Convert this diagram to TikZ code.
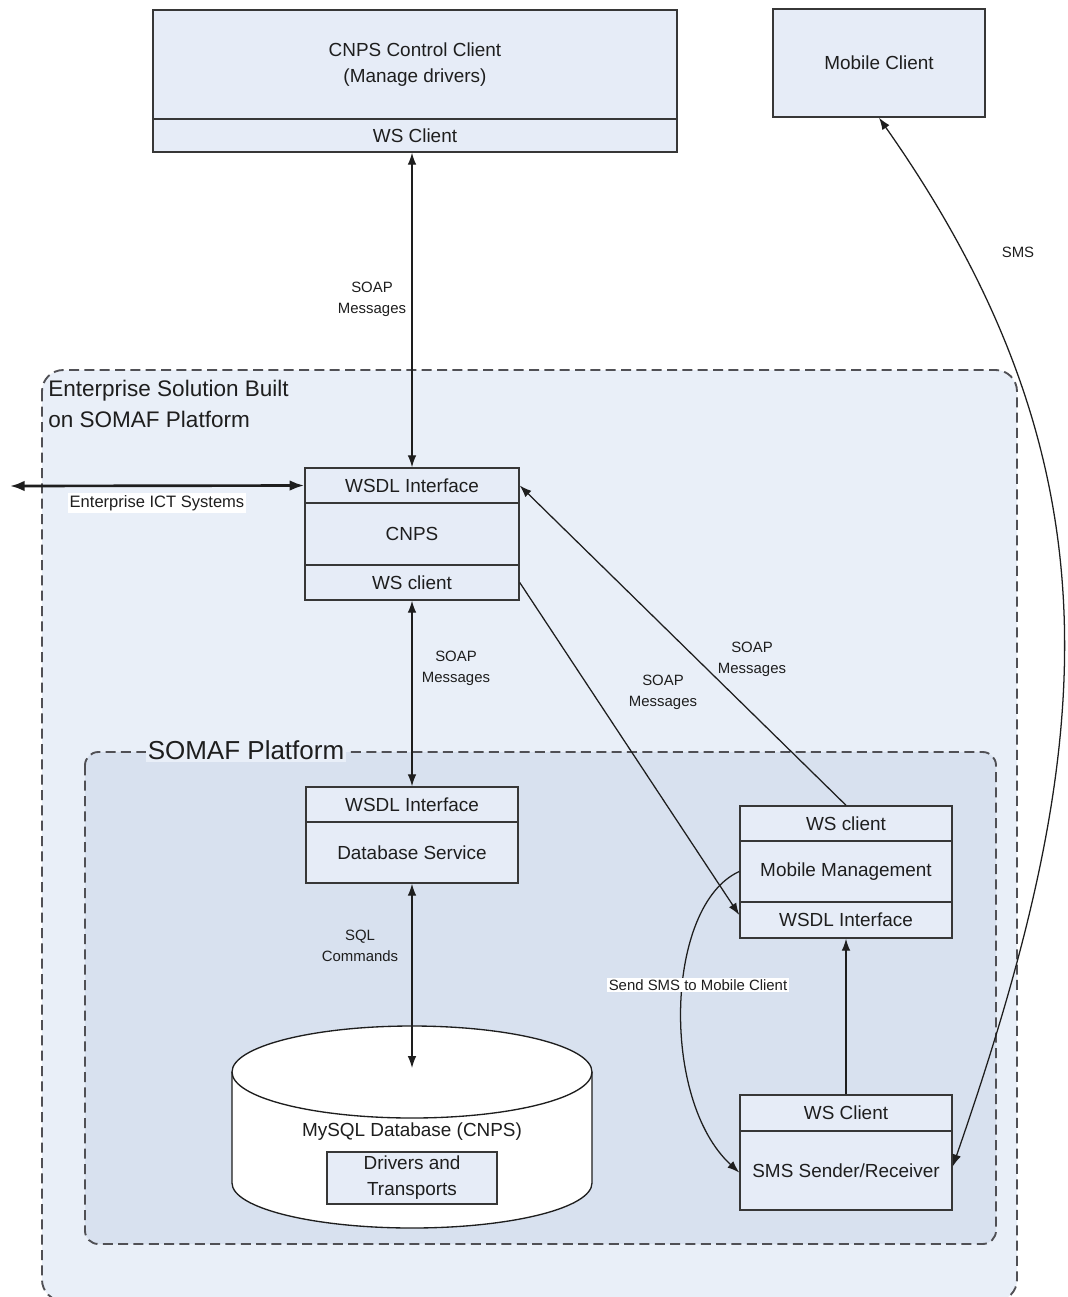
\documentclass[tikz,border=0pt]{standalone}
\usepackage{fontspec}
\setmainfont{Liberation Sans}
\usetikzlibrary{arrows.meta}
\definecolor{outerbg}{RGB}{233,239,248}
\definecolor{innerbg}{RGB}{216,225,239}
\definecolor{boxbg}{RGB}{230,236,247}
\definecolor{edge}{RGB}{55,55,55}
\definecolor{dashcol}{RGB}{80,80,85}
\definecolor{ink}{RGB}{30,30,30}
\begin{document}
\begin{tikzpicture}[x=0.75pt,y=-0.75pt,
  part/.style={draw=edge,fill=boxbg,line width=1.1pt,inner sep=0pt,
    text=ink,align=center,font=\fontsize{14.2}{19.5}\selectfont},
  sz/.style 2 args={minimum width=#1*0.75pt,minimum height=#2*0.75pt},
  region/.style={draw=dashcol,line width=1.4pt,dash pattern=on 7.5pt off 4pt},
  msg/.style={text=ink,align=center,font=\fontsize{11.2}{15.75}\selectfont,inner sep=1pt},
  conn/.style={draw=ink,line width=0.95pt},
  tip/.style={-{Latex[length=9pt,width=6.5pt]}},
  tips/.style={{Latex[length=9pt,width=6.5pt]}-{Latex[length=9pt,width=6.5pt]}}
]
\useasboundingbox (0,0) rectangle (1068,1297);
\clip (0,0) rectangle (1068,1297);
\fill[white] (0,0) rectangle (1068,1297);

% enterprise region and SOMAF platform region
\filldraw[region,fill=outerbg,rounded corners=16pt] (42,370) rectangle (1017,1301);
\filldraw[region,fill=innerbg,rounded corners=10pt] (85,752) rectangle (996,1244);
\node[anchor=north west,text=ink,align=left,inner sep=0pt,
  font=\fontsize{16.9}{23.3}\selectfont] (enttitle) at (48,380)
  {Enterprise Solution Built\\on SOMAF Platform};
\node[fill=outerbg,text=ink,inner sep=1.5pt,font=\fontsize{19.5}{22}\selectfont]
  (somaftitle) at (246,750) {SOMAF Platform};

% CNPS control client
\node[part,sz={524}{109}] (ctlM) at (415,64.5) {CNPS Control Client\\(Manage drivers)};
\node[part,sz={524}{33}] (ctlC) at (415,135.5) {WS Client};

% mobile client
\node[part,sz={212}{108}] (mobile) at (879,63) {Mobile Client};

% CNPS service
\node[part,sz={214}{35}] (cnpsW) at (412,485.5) {WSDL Interface};
\node[part,sz={214}{62}] (cnpsM) at (412,534) {CNPS};
\node[part,sz={214}{35}] (cnpsC) at (412,582.5) {WS client};

% database service
\node[part,sz={212}{35}] (dbsW) at (412,804.5) {WSDL Interface};
\node[part,sz={212}{61}] (dbsM) at (412,852.5) {Database Service};

% mobile management
\node[part,sz={212}{35}] (mmC) at (846,823.5) {WS client};
\node[part,sz={212}{61}] (mmM) at (846,871.5) {Mobile Management};
\node[part,sz={212}{36}] (mmW) at (846,920) {WSDL Interface};

% SMS sender / receiver
\node[part,sz={212}{36}] (smsC) at (846,1113) {WS Client};
\node[part,sz={212}{79}] (smsM) at (846,1170.5) {SMS Sender/Receiver};

% MySQL database cylinder
\filldraw[draw=ink,fill=white,line width=1pt]
  (232,1072) -- (232,1183)
  arc[start angle=180,end angle=360,x radius=135pt,y radius=33.75pt]
  -- (592,1072)
  arc[start angle=0,end angle=180,x radius=135pt,y radius=34.5pt] -- cycle;
\draw[draw=ink,line width=1pt] (232,1072)
  arc[start angle=180,end angle=360,x radius=135pt,y radius=34.5pt];
\coordinate (dbtop) at (412,1068);
\node[text=ink,font=\fontsize{14.2}{16}\selectfont] (dbname) at (412,1132) {MySQL Database (CNPS)};
\node[part,sz={170}{52}] (drivers) at (412,1178) {Drivers and\\Transports};

% connectors
\draw[conn,tips] (cnpsW.north |- ctlC.south) -- (cnpsW.north);
\node[msg] (l1) at (372,299) {SOAP\\Messages};
\coordinate (ictend) at (10,486);
\draw[draw=ink,line width=2pt,{Latex[length=11pt,width=8pt]}-{Latex[length=11pt,width=8pt]}]
  (ictend) -- (cnpsW.west);
\node[fill=white,text=ink,inner sep=1.5pt,font=\fontsize{12.4}{14}\selectfont]
  (ictlabel) at (157,503) {Enterprise ICT Systems};
\draw[conn,tips] (cnpsC.south) -- (dbsW.north);
\node[msg] (l2) at (456,668) {SOAP\\Messages};
\draw[conn,tips] (dbsM.south) -- (dbtop);
\node[msg] (l3) at (360,946) {SQL\\Commands};
\draw[conn,tip] (cnpsC.east) -- ([yshift=3.75pt]mmW.west);
\node[msg] (l4) at (663,692) {SOAP\\Messages};
\draw[conn,tip] (mmC.north) -- (cnpsW.east);
\node[msg] (l5) at (752,659) {SOAP\\Messages};
\draw[conn,tip] (smsC.north) -- (mmW.south);
\draw[conn,tip] (mmM.west) .. controls (665,905) and (660,1100) .. ([yshift=-1.5pt]smsM.west);
\node[fill=white,text=ink,inner sep=1.5pt,font=\fontsize{11.2}{13}\selectfont]
  (l6) at (698,985) {Send SMS to Mobile Client};
\draw[conn,tips] (mobile.south) .. controls (1128,472) and (1096,754) .. ([yshift=3pt]smsM.east);
\node[msg] (l7) at (1018,252) {SMS};
\end{tikzpicture}
\end{document}
